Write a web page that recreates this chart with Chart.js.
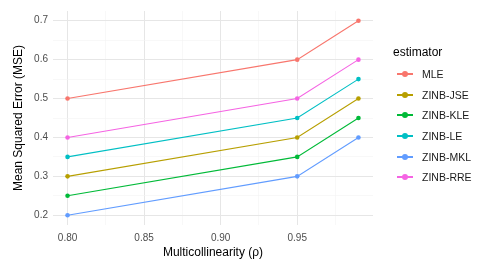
<!DOCTYPE html>
<html>
<head>
<meta charset="utf-8">
<script src="https://cdn.jsdelivr.net/npm/chart.js@4.4.1/dist/chart.umd.min.js"></script>
<style>
  html, body { margin: 0; padding: 0; background: #fff; }
  #wrap { position: relative; width: 485px; height: 267px; font-family: "Liberation Sans", Arial, sans-serif; }
  #legend { position: absolute; left: 393px; top: 44px; }
  #legend .ttl { font-size: 12px; color: #000; height: 20px; line-height: 16px; }
  #legend .item { display: flex; align-items: center; height: 20.6px; font-size: 10.5px; color: #1a1a1a; }
  #legend .key { position: relative; width: 16px; height: 2px; margin: 0 9px 0 4px; }
  #legend .key i { position: absolute; left: 5px; top: -2px; width: 6px; height: 6px; border-radius: 50%; }
</style>
</head>
<body>
<div id="wrap">
  <canvas id="chart" width="485" height="267"></canvas>
  <div id="legend"></div>
</div>
<script>
// Valores
const RHO = [0.80, 0.95, 0.99];
const SERIES = ["MLE", "ZINB-JSE", "ZINB-KLE", "ZINB-LE", "ZINB-MKL", "ZINB-RRE"];
const MLE = [0.50, 0.60, 0.70];
const ZINB_JSE = [0.30, 0.40, 0.50];
const ZINB_KLE = [0.25, 0.35, 0.45];
const ZINB_LE = [0.35, 0.45, 0.55];
const ZINB_MKL = [0.20, 0.30, 0.40];
const ZINB_RRE = [0.40, 0.50, 0.60];
const COLORS = ["#F8766D", "#B79F00", "#00BA38", "#00BFC4", "#619CFF", "#F564E3"];
const X_TICKS = [0.80, 0.825, 0.85, 0.875, 0.90, 0.925, 0.95, 0.975];
const Y_TICKS = [0.2, 0.25, 0.3, 0.35, 0.4, 0.45, 0.5, 0.55, 0.6, 0.65, 0.7];

const values = [MLE, ZINB_JSE, ZINB_KLE, ZINB_LE, ZINB_MKL, ZINB_RRE];
const isMajor = (v, step) => Math.abs(Math.round(v / step) * step - v) < 1e-6;

const datasets = SERIES.map((name, i) => ({
  label: name,
  data: RHO.map((x, j) => ({ x, y: values[i][j] })),
  borderColor: COLORS[i],
  backgroundColor: COLORS[i],
  borderWidth: 1.1,
  pointRadius: 2.3,
  pointBorderWidth: 0,
  tension: 0,
}));

const tickFont = { family: "'Liberation Sans', Arial, sans-serif", size: 10 };
const titleFont = { family: "'Liberation Sans', Arial, sans-serif", size: 12 };
const gridColor = (step) => (ctx) => isMajor(ctx.tick.value, step) ? "#e6e6e6" : "#f3f3f3";

new Chart(document.getElementById("chart"), {
  type: "line",
  data: { datasets },
  options: {
    responsive: false,
    animation: false,
    layout: { padding: { left: 0, right: 112, top: 4, bottom: 0 } },
    plugins: { legend: { display: false }, tooltip: { enabled: false } },
    scales: {
      x: {
        type: "linear",
        min: 0.7905, max: 0.9995,
        afterBuildTicks: (s) => { s.ticks = X_TICKS.map((v) => ({ value: v })); },
        afterFit: (s) => { s.height = 42; },
        ticks: {
          font: tickFont, color: "#4d4d4d", padding: 7, maxRotation: 0, autoSkip: false,
          callback: (v) => isMajor(v, 0.05) ? v.toFixed(2) : "",
        },
        grid: { color: gridColor(0.05), lineWidth: (c) => isMajor(c.tick.value, 0.05) ? 1 : 0.6, drawTicks: false },
        border: { display: false },
        title: { display: true, text: "Multicollinearity (ρ)", font: titleFont, color: "#000", padding: { top: 0, bottom: 7 } },
      },
      y: {
        min: 0.175, max: 0.725,
        afterBuildTicks: (s) => { s.ticks = Y_TICKS.map((v) => ({ value: v })); },
        afterFit: (s) => { s.width = 53; },
        ticks: {
          font: tickFont, color: "#4d4d4d", padding: 5, autoSkip: false,
          callback: (v) => isMajor(v, 0.1) ? v.toFixed(1) : "",
        },
        grid: { color: gridColor(0.1), lineWidth: (c) => isMajor(c.tick.value, 0.1) ? 1 : 0.6, drawTicks: false },
        border: { display: false },
        title: { display: true, text: "Mean Squared Error (MSE)", font: titleFont, color: "#000", padding: { top: 11, bottom: 0 } },
      },
    },
  },
});

// Legenda no estilo ggplot
const legend = document.getElementById("legend");
legend.innerHTML = `<div class="ttl">estimator</div>` + SERIES.map((s, i) =>
  `<div class="item"><span class="key" style="background:${COLORS[i]}"><i style="background:${COLORS[i]}"></i></span>${s}</div>`
).join("");
</script>
</body>
</html>
